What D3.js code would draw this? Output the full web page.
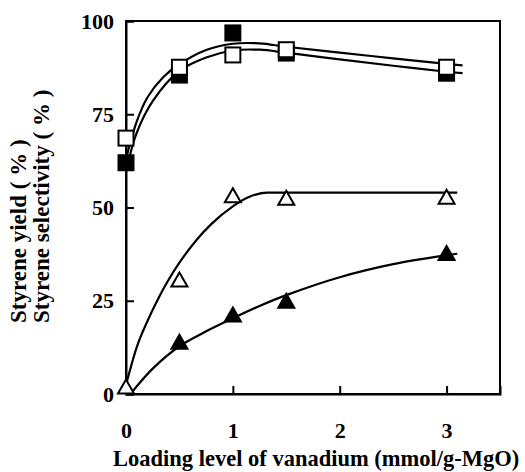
<!DOCTYPE html>
<html><head><meta charset="utf-8">
<script src="https://cdn.jsdelivr.net/npm/d3@7"></script>
<style>body{margin:0;background:#fff}svg{display:block}</style>
</head><body>
<script>
// Data
const xTicks = [0, 1, 2, 3];
const yTicks = [0, 25, 50, 75, 100];
const loading = [0, 0.5, 1, 1.5, 3];
const selFilled = [62, 85.5, 96.8, 91.4, 86];     // filled squares
const selOpen = [68.6, 87.6, 90.9, 92.3, 87.6];   // open squares
const yieldOpenX = [0, 0.5, 1, 1.5, 3];
const yieldOpen = [2, 30.7, 53.3, 52.6, 52.9];     // open triangles
const yieldFilledX = [0.5, 1, 1.5, 3];
const yieldFilled = [14, 21.3, 25, 37.8];          // filled triangles

// fitted curves
const curveUpper = [[0,63],[0.1,73],[0.2,79.5],[0.35,85],[0.5,88.4],[0.75,92.2],[1.0,93.9],[1.25,94],[1.5,93.1],[2.0,91.5],[2.5,90],[3.0,88.5],[3.15,88.1]];
const curveLower = [[0.02,62],[0.1,70],[0.25,78.5],[0.5,86.6],[0.75,90.2],[1.0,92.1],[1.25,92.3],[1.5,91.5],[2.0,89.7],[2.5,88],[3.0,86.4],[3.15,86]];
const curveOpenTri = [[0.01,3.5],[0.1,12.5],[0.2,19.5],[0.3,25.5],[0.4,30.7],[0.5,35.2],[0.66,41.3],[0.8,45.6],[1.0,50.3],[1.15,52.8],[1.32,54],[2,54],[3.1,54]];
const curveFilledTri = [[0.05,0.3],[0.25,6.8],[0.5,12.8],[0.75,16.8],[1.0,20.3],[1.25,23.6],[1.5,26.5],[2.0,31.3],[2.5,34.8],[3.0,37.2],[3.1,37.6]];

const W = 525, H = 472;
const m = {left:126, top:21, right:500, bottom:394};
const font = "'Liberation Serif','Times New Roman',serif";

const svg = d3.select("body").append("svg").attr("width", W).attr("height", H);
const x = d3.scaleLinear().domain([0, 3.5]).range([m.left, m.right]);
const y = d3.scaleLinear().domain([0, 100]).range([m.bottom, m.top]);

// frame
svg.append("rect").attr("x", m.left).attr("y", m.top)
  .attr("width", m.right - m.left).attr("height", m.bottom - m.top)
  .attr("fill", "none").attr("stroke", "#000").attr("stroke-width", 2);

// axes with inward ticks
const xAxis = svg.append("g").attr("transform", `translate(0,${m.bottom})`)
  .call(d3.axisBottom(x).tickValues(xTicks).tickSize(-8).tickPadding(30).tickFormat(d3.format("d")));
const yAxis = svg.append("g").attr("transform", `translate(${m.left},0)`)
  .call(d3.axisLeft(y).tickValues(yTicks).tickSize(-8).tickPadding(12).tickFormat(d3.format("d")));
[xAxis, yAxis].forEach(g => {
  g.select(".domain").attr("stroke", "#000").attr("stroke-width", 2);
  g.selectAll(".tick line").attr("stroke", "#000").attr("stroke-width", 2);
  g.selectAll("text").attr("fill", "#000").style("font-family", font)
    .style("font-weight", "bold").style("font-size", "22px");
});
xAxis.selectAll("text").attr("dy", 0).attr("y", 44);

// axis titles
svg.append("text").attr("x", 113).attr("y", 466)
  .style("font-family", font).style("font-weight", "bold").style("font-size", "22.5px")
  .text("Loading level of vanadium (mmol/g-MgO)");
const yl = svg.append("g").style("font-family", font).style("font-weight", "bold").style("font-size", "23px");
yl.append("text").attr("transform", "translate(26,323) rotate(-90)").text("Styrene yield ( % )");
yl.append("text").attr("transform", "translate(49,323) rotate(-90)").text("Styrene selectivity ( % )");

// curves
const line = d3.line().x(d => x(d[0])).y(d => y(d[1])).curve(d3.curveMonotoneX);
const smooth = d3.line().x(d => x(d[0])).y(d => y(d[1])).curve(d3.curveCatmullRom.alpha(0.5));
[curveUpper, curveLower, curveFilledTri].forEach(c => {
  svg.append("path").attr("d", smooth(c)).attr("fill", "none").attr("stroke", "#000").attr("stroke-width", 2.2);
});
svg.append("path").attr("d", line(curveOpenTri)).attr("fill", "none").attr("stroke", "#000").attr("stroke-width", 2.2);

// markers
const S = 15;
function squares(xs, ys, fill) {
  svg.append("g").selectAll("rect").data(xs.map((v, i) => [v, ys[i]])).join("rect")
    .attr("x", d => x(d[0]) - S/2).attr("y", d => y(d[1]) - S/2)
    .attr("width", S).attr("height", S)
    .attr("fill", fill).attr("stroke", "#000").attr("stroke-width", 2);
}
function triangles(xs, ys, fill) {
  const tw = 16, th = 14;
  svg.append("g").selectAll("path").data(xs.map((v, i) => [v, ys[i]])).join("path")
    .attr("d", d => {
      const cx = x(d[0]), cy = y(d[1]);
      return `M${cx},${cy - th/2}L${cx + tw/2},${cy + th/2}L${cx - tw/2},${cy + th/2}Z`;
    })
    .attr("fill", fill).attr("stroke", "#000").attr("stroke-width", 2).attr("stroke-linejoin", "miter");
}
squares(loading, selFilled, "#000");
squares(loading, selOpen, "#fff");
triangles(yieldFilledX, yieldFilled, "#000");
triangles(yieldOpenX, yieldOpen, "#fff");
</script>
</body></html>
